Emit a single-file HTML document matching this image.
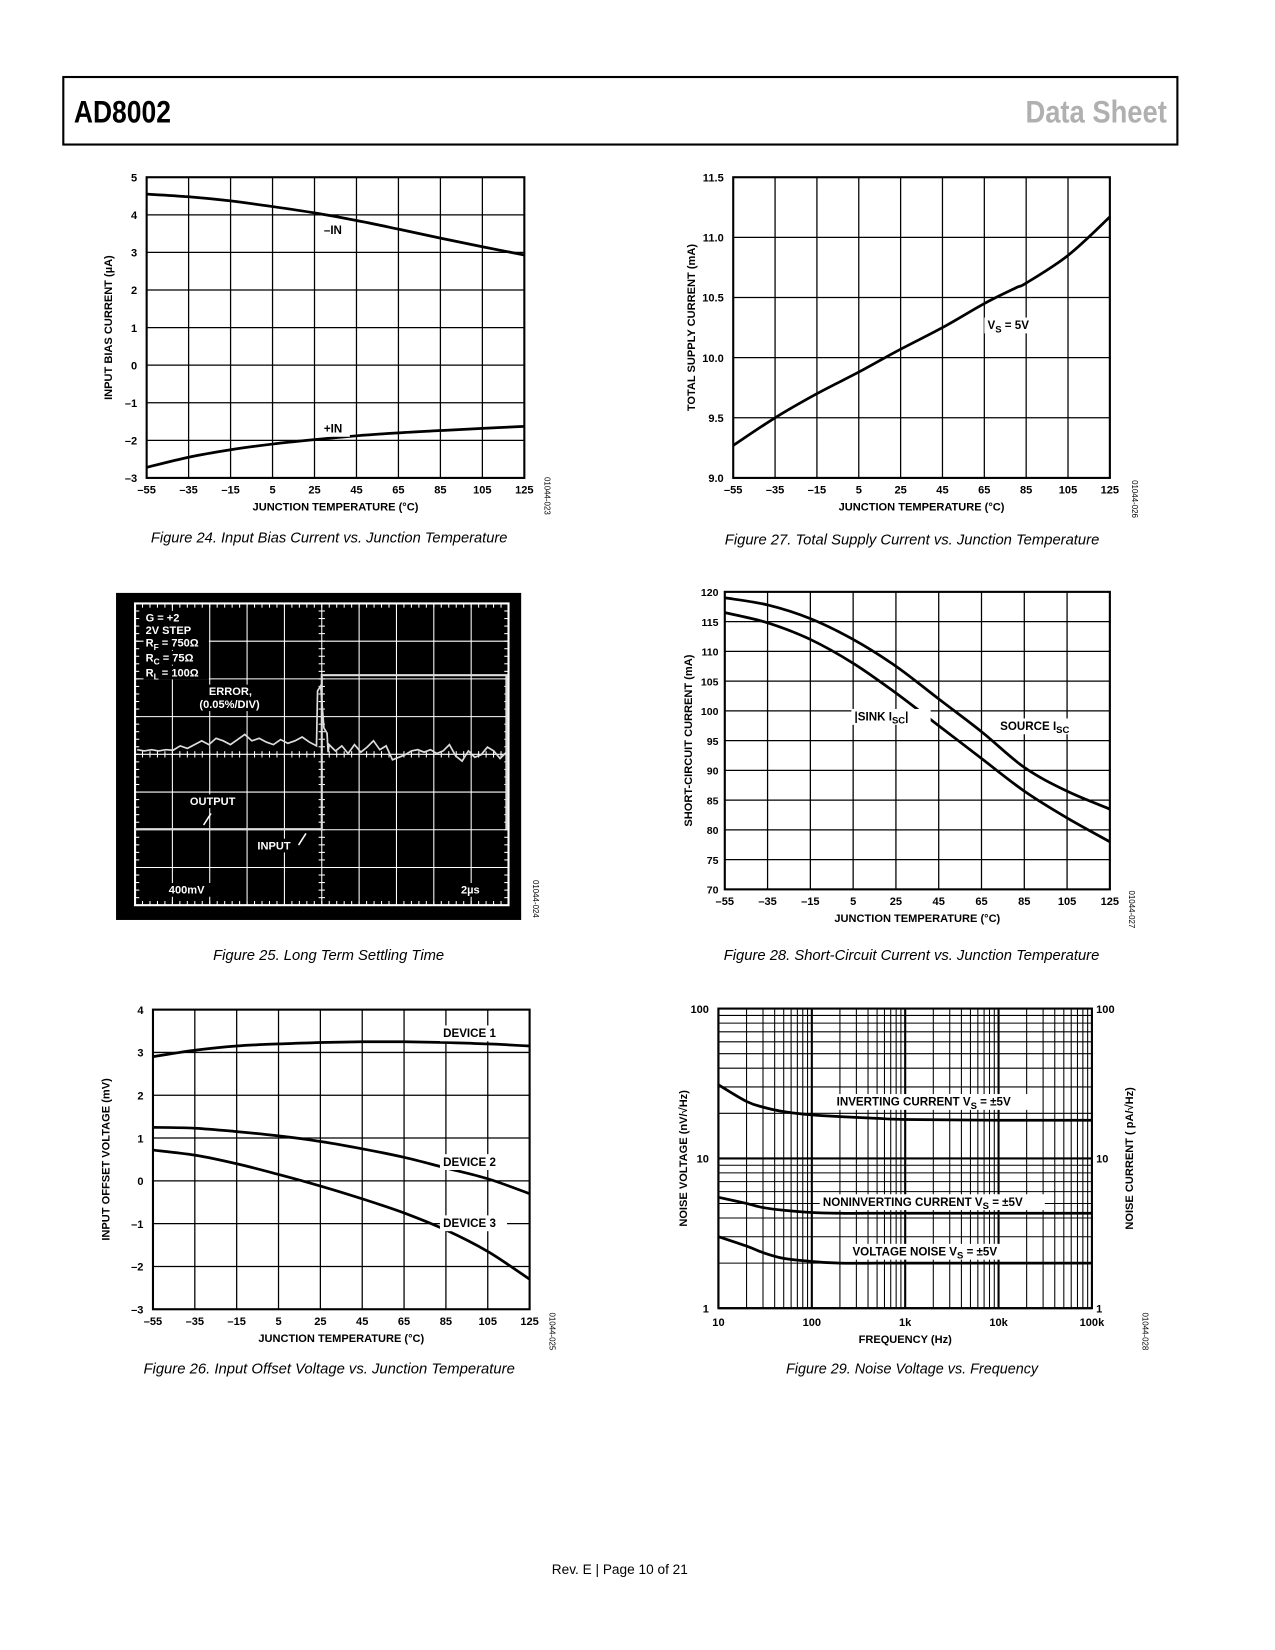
<!DOCTYPE html>
<html><head><meta charset="utf-8"><style>
html,body{margin:0;padding:0;background:#fff;}
svg{display:block;font-family:"Liberation Sans",sans-serif;}
.cap{font-family:"Liberation Sans",sans-serif;font-style:italic;font-size:14px;}
</style></head><body>
<svg id="svgroot" width="1275" height="1650" viewBox="0 0 1275 1650" xmlns="http://www.w3.org/2000/svg">
<g id="page" transform="scale(1.055)">
<rect x="60" y="73" width="1056" height="64" fill="none" stroke="#000" stroke-width="2"/>
<text x="70" y="116" font-size="30" font-weight="bold" textLength="92" lengthAdjust="spacingAndGlyphs">AD8002</text>
<text x="1106" y="116" font-size="30" font-weight="bold" fill="#b0b0b0" text-anchor="end" textLength="134" lengthAdjust="spacingAndGlyphs">Data Sheet</text>
<text x="143" y="514" class="cap" textLength="338" lengthAdjust="spacingAndGlyphs">Figure 24. Input Bias Current vs. Junction Temperature</text>
<text x="687" y="516" class="cap" textLength="355" lengthAdjust="spacingAndGlyphs">Figure 27. Total Supply Current vs. Junction Temperature</text>
<text x="202" y="910" class="cap" textLength="219" lengthAdjust="spacingAndGlyphs">Figure 25. Long Term Settling Time</text>
<text x="686" y="910" class="cap" textLength="356" lengthAdjust="spacingAndGlyphs">Figure 28. Short-Circuit Current vs. Junction Temperature</text>
<text x="136" y="1302" class="cap" textLength="352" lengthAdjust="spacingAndGlyphs">Figure 26. Input Offset Voltage vs. Junction Temperature</text>
<text x="745" y="1302" class="cap" textLength="239" lengthAdjust="spacingAndGlyphs">Figure 29. Noise Voltage vs. Frequency</text>
<text x="523" y="1492" font-size="13" textLength="129" lengthAdjust="spacingAndGlyphs">Rev. E | Page 10 of 21</text>
</g>
</svg>
<script>
const temps=[-55,-35,-15,5,25,45,65,85,105,125];
const tempTicks=["–55","–35","–15","5","25","45","65","85","105","125"];
const biasNeg=[4.55,4.48,4.37,4.22,4.05,3.85,3.62,3.38,3.15,2.93];
const biasPos=[-2.72,-2.45,-2.25,-2.1,-1.98,-1.88,-1.8,-1.74,-1.68,-1.63];
const supplyTemps=[-55,-35,-15,5,25,45,65,80,85,105,125];
const supplyCur=[9.27,9.5,9.7,9.88,10.07,10.25,10.45,10.58,10.62,10.85,11.17];
const sourceIsc=[119,117.8,115.5,112,107.5,102,96.5,90.5,86.5,83.5];
const sinkIsc=[116.5,114.8,112,108,103,97.5,92,86.5,82,78];
const dev1=[2.9,3.05,3.15,3.2,3.23,3.25,3.25,3.23,3.2,3.15];
const dev2=[1.25,1.23,1.15,1.05,0.92,0.75,0.55,0.3,0.05,-0.3];
const dev3=[0.72,0.6,0.4,0.15,-0.12,-0.42,-0.75,-1.15,-1.65,-2.3];
const freqs=[10,20,30,50,100,200,500,1000,10000,100000];
const invCur=[31,24,22,20.5,19.5,19,18.5,18.2,18,18];
const nonInvCur=[5.5,5.0,4.7,4.5,4.35,4.3,4.3,4.3,4.3,4.3];
const voltNoise=[3.0,2.6,2.35,2.15,2.05,2.0,2.0,2.0,2.0,2.0];
const errTrace=[0.1,0.05,0.1,0.05,0.1,0.08,0.25,0.15,0.3,0.45,0.3,0.55,0.45,0.3,0.5,0.7,0.45,0.55,0.4,0.3,0.5,0.35,0.45,0.6,0.4,0.25];
const errTrace2=[0.3,0.05,0.25,-0.05,0.3,0.0,0.2,0.45,0.1,0.25,-0.3,-0.2,-0.1,0.05,0.1,0.0,0.1,-0.05,0.05,0.3,-0.15,-0.35,0.05,-0.2,-0.1,0.2,0.05,-0.25,0.0];

const NS="http://www.w3.org/2000/svg";
const svg=document.getElementById('page');
function mk(tag,attrs,parent,txt){const e=document.createElementNS(NS,tag);for(const k in attrs)e.setAttribute(k,attrs[k]);if(txt!==undefined)e.textContent=txt;(parent||svg).appendChild(e);return e;}
function lin(d0,d1,p0,p1){return v=>p0+(v-d0)/(d1-d0)*(p1-p0);}
function logs(d0,d1,p0,p1){return v=>p0+(Math.log10(v)-Math.log10(d0))/(Math.log10(d1)-Math.log10(d0))*(p1-p0);}
function smooth(pts){let d="M"+pts[0][0].toFixed(1)+","+pts[0][1].toFixed(1);for(let i=0;i<pts.length-1;i++){const p0=pts[i-1]||pts[i],p1=pts[i],p2=pts[i+1],p3=pts[i+2]||p2;const c1=[p1[0]+(p2[0]-p0[0])/6,p1[1]+(p2[1]-p0[1])/6],c2=[p2[0]-(p3[0]-p1[0])/6,p2[1]-(p3[1]-p1[1])/6];d+=" C"+c1[0].toFixed(1)+","+c1[1].toFixed(1)+" "+c2[0].toFixed(1)+","+c2[1].toFixed(1)+" "+p2[0].toFixed(1)+","+p2[1].toFixed(1);}return d;}
function label(g,x,y,txt,sub,after){const w=(txt.length+(sub?sub.length*0.8:0)+(after?after.length:0))*7.2+6;mk('rect',{x:x-3,y:y-11,width:w,height:15,fill:'#fff'},g);const t=mk('text',{x:x,y:y,'font-size':11,'font-weight':'bold'},g,txt);if(sub){mk('tspan',{'font-size':9,dy:3},t,sub);}if(after){mk('tspan',{dy:sub?-3:0},t,after);}return t;}

function tempChart(o){
  const g=mk('g',{});
  
  
  const X=lin(-55,125,o.x0,o.x1),Y=lin(o.ymin,o.ymax,o.y1,o.y0);
  const fs=o.fs||10.5, off=o.off||9;
  temps.forEach((t,i)=>{mk('line',{x1:X(t),x2:X(t),y1:o.y0,y2:o.y1,stroke:'#000','stroke-width':1.2},g);
    const tl=mk('text',{x:X(t),y:o.y1+15,'font-size':10.5,'font-weight':'bold','text-anchor':'middle'},g,tempTicks[i]);
    
    });
  o.yticks.forEach((v,i)=>{mk('line',{x1:o.x0,x2:o.x1,y1:Y(v),y2:Y(v),stroke:'#000','stroke-width':1.2},g);
    const yl=mk('text',{x:o.x0-off,y:Y(v)+4,'font-size':fs,'font-weight':'bold','text-anchor':'end'},g,o.ylabels[i]);
    
    });
  mk('rect',{x:o.x0,y:o.y0,width:o.x1-o.x0,height:o.y1-o.y0,fill:'none',stroke:'#000','stroke-width':2},g);
  const xt=mk('text',{x:(o.x0+o.x1)/2,y:o.y1+31,'font-size':10.5,'font-weight':'bold','text-anchor':'middle'},g,'JUNCTION TEMPERATURE (°C)');
  
  
  const yt=mk('text',{x:0,y:0,'font-size':10.5,'font-weight':'bold','text-anchor':'middle',transform:`translate(${o.yx},${(o.y0+o.y1)/2}) rotate(-90)`},g,o.ytitle);
  
  
  mk('text',{x:0,y:0,'font-size':7.5,'text-anchor':'middle',transform:`translate(${o.codeX},${o.codeY}) rotate(90)`},g,o.code);
  o.series.forEach(s=>{const xs=s.x||temps;const p=mk('path',{d:smooth(xs.map((t,i)=>[X(t),Y(s.v[i])])),fill:'none',stroke:'#000','stroke-width':2.6},g);
    
    });
  (o.labels||[]).forEach(l=>label(g,l[0],l[1],l[2],l[3],l[4]));
}
tempChart({name:'figure-24-input-bias-chart',x0:139,x1:497,y0:168,y1:453,ymin:-3,ymax:5,yticks:[-3,-2,-1,0,1,2,3,4,5],ylabels:["–3","–2","–1","0","1","2","3","4","5"],ytitle:'INPUT BIAS CURRENT (µA)',yx:106,code:'01044-023',codeX:516,codeY:470,
  series:[{name:'minus-in-line',v:biasNeg},{name:'plus-in-line',v:biasPos}],labels:[[307,222,'–IN'],[307,410,'+IN']]});
tempChart({name:'figure-27-supply-current-chart',x0:695,x1:1052,y0:168,y1:453,ymin:9,ymax:11.5,yticks:[9,9.5,10,10.5,11,11.5],ylabels:["9.0","9.5","10.0","10.5","11.0","11.5"],ytitle:'TOTAL  SUPPLY CURRENT (mA)',yx:659,code:'01044-026',codeX:1073,codeY:473,
  series:[{name:'supply-current-line',x:supplyTemps,v:supplyCur}],labels:[[936,312,'V','S',' = 5V']]});
tempChart({name:'figure-28-short-circuit-chart',x0:687,x1:1052,y0:561,y1:843,ymin:70,ymax:120,yticks:[70,75,80,85,90,95,100,105,110,115,120],ylabels:["70","75","80","85","90","95","100","105","110","115","120"],ytitle:'SHORT-CIRCUIT CURRENT (mA)',yx:656,fs:10,off:6,code:'01044-027',codeX:1070,codeY:862,
  series:[{name:'source-isc-line',v:sourceIsc},{name:'sink-isc-line',v:sinkIsc}],labels:[[810,683,'|SINK I','SC','|'],[948,692,'SOURCE I','SC','']]});
tempChart({name:'figure-26-offset-voltage-chart',x0:145,x1:502,y0:957,y1:1241,ymin:-3,ymax:4,yticks:[-3,-2,-1,0,1,2,3,4],ylabels:["–3","–2","–1","0","1","2","3","4"],ytitle:'INPUT OFFSET VOLTAGE (mV)',yx:104,code:'01044-025',codeX:521,codeY:1262,
  series:[{name:'device-1-line',v:dev1},{name:'device-2-line',v:dev2},{name:'device-3-line',v:dev3}],labels:[[420,983,'DEVICE 1'],[420,1105,'DEVICE 2'],[420,1163,'DEVICE 3']]});

// Scope figure 25
(function(){
  const g=mk('g',{});
  
  
  mk('rect',{x:110,y:562,width:384,height:310,fill:'#000'},g);
  const gx0=128,gx1=482,gy0=572,gy1=858;
  for(let i=0;i<=10;i++){const x=gx0+(gx1-gx0)*i/10;mk('line',{x1:x,x2:x,y1:gy0,y2:gy1,stroke:'#fff','stroke-width':1},g);}
  for(let i=0;i<=8;i++){const y=gy0+(gy1-gy0)*i/8;mk('line',{x1:gx0,x2:gx1,y1:y,y2:y,stroke:'#fff','stroke-width':1},g);}
  const cx=(gx0+gx1)/2,cy=(gy0+gy1)/2;
  for(let i=0;i<=50;i++){const x=gx0+(gx1-gx0)*i/50;mk('line',{x1:x,x2:x,y1:cy-3,y2:cy+3,stroke:'#fff'},g);mk('line',{x1:x,x2:x,y1:gy0,y2:gy0+4,stroke:'#fff'},g);mk('line',{x1:x,x2:x,y1:gy1-4,y2:gy1,stroke:'#fff'},g);}
  for(let i=0;i<=40;i++){const y=gy0+(gy1-gy0)*i/40;mk('line',{x1:cx-3,x2:cx+3,y1:y,y2:y,stroke:'#fff'},g);mk('line',{x1:gx0,x2:gx0+4,y1:y,y2:y,stroke:'#fff'},g);mk('line',{x1:gx1-4,x2:gx1,y1:y,y2:y,stroke:'#fff'},g);}
  mk('rect',{x:gx0,y:gy0,width:gx1-gx0,height:gy1-gy0,fill:'none',stroke:'#fff','stroke-width':2},g);
  const step=mk('path',{d:`M${gx0} 786 H305 V640 H480 V786`,fill:'none',stroke:'#ddd','stroke-width':2},g);
  
  
  const EY=v=>713-v*24;
  const eX1=lin(0,errTrace.length-1,130,300);
  let d=errTrace.map((v,i)=>(i?'L':'M')+eX1(i).toFixed(1)+' '+EY(v).toFixed(1)).join(' ');
  d+=` L301 655 L304 650 L307 690 L310 695 L311 713`;
  const eX2=lin(0,errTrace2.length-1,312,480);
  d+=' '+errTrace2.map((v,i)=>'L'+eX2(i).toFixed(1)+' '+EY(v).toFixed(1)).join(' ');
  const err=mk('path',{d:d,fill:'none',stroke:'#ddd','stroke-width':1.6},g);
  
  
  const lab=(x,y,t,sub,after,w)=>{mk('rect',{x:x-2,y:y-10,width:w,height:13,fill:'#000'},g);const tt=mk('text',{x:x,y:y,'font-size':10.5,'font-weight':'bold',fill:'#fff'},g,t);if(sub){mk('tspan',{'font-size':8,dy:3},tt,sub);mk('tspan',{dy:-3},tt,after);}};
  lab(138,589,'G = +2','','',58);lab(138,601,'2V STEP','','',62);lab(138,613,'R','F',' = 750Ω',62);lab(138,627,'R','C',' = 75Ω',62);lab(138,641,'R','L',' = 100Ω',62);
  lab(198,659,'ERROR,','','',48);lab(189,671,'(0.05%/DIV)','','',70);
  lab(180,763,'OUTPUT','','',54);lab(244,805,'INPUT','','',42);
  mk('line',{x1:200,x2:193,y1:771,y2:782,stroke:'#fff','stroke-width':1.5},g);
  mk('line',{x1:283,x2:290,y1:801,y2:790,stroke:'#fff','stroke-width':1.5},g);
  lab(160,847,'400mV','','',44);lab(437,847,'2µs','','',28);
  mk('text',{x:0,y:0,'font-size':7.5,'text-anchor':'middle',transform:'translate(505,852) rotate(90)'},g,'01044-024');
})();

// Noise figure 29
(function(){
  const g=mk('g',{});
  
  
  const x0=681,x1=1035,y0=956,y1=1240;
  const X=logs(10,100000,x0,x1),Y=logs(1,100,y1,y0);
  for(let dec=10;dec<100000;dec*=10)for(let m=1;m<10;m++){const x=X(dec*m);mk('line',{x1:x,x2:x,y1:y0,y2:y1,stroke:'#000','stroke-width':m==1?2:1},g);}
  for(let dec=1;dec<100;dec*=10)for(let m=1;m<10;m++){const y=Y(dec*m);mk('line',{x1:x0,x2:x1,y1:y,y2:y,stroke:'#000','stroke-width':m==1?2:1},g);}
  mk('rect',{x:x0,y:y0,width:x1-x0,height:y1-y0,fill:'none',stroke:'#000','stroke-width':2},g);
  [[10,'10'],[100,'100'],[1000,'1k'],[10000,'10k'],[100000,'100k']].forEach(t=>{const tl=mk('text',{x:X(t[0]),y:y1+17,'font-size':10.5,'font-weight':'bold','text-anchor':'middle'},g,t[1]);
    
    });
  [[1,'1'],[10,'10'],[100,'100']].forEach(t=>{mk('text',{x:x0-9,y:Y(t[0])+4,'font-size':10.5,'font-weight':'bold','text-anchor':'end'},g,t[1]);mk('text',{x:x1+4,y:Y(t[0])+4,'font-size':10.5,'font-weight':'bold'},g,t[1]);});
  mk('text',{x:(x0+x1)/2,y:y1+33,'font-size':10.5,'font-weight':'bold','text-anchor':'middle'},g,'FREQUENCY (Hz)');
  mk('text',{x:0,y:0,'font-size':10.5,'font-weight':'bold','text-anchor':'middle',transform:`translate(651,${(y0+y1)/2}) rotate(-90)`},g,'NOISE VOLTAGE (nV/√Hz)');
  mk('text',{x:0,y:0,'font-size':10.5,'font-weight':'bold','text-anchor':'middle',transform:`translate(1074,${(y0+y1)/2}) rotate(-90)`},g,'NOISE CURRENT ( pA/√Hz)');
  mk('text',{x:0,y:0,'font-size':7.5,'text-anchor':'middle',transform:'translate(1083,1262) rotate(90)'},g,'01044-028');
  [[invCur,'inverting-current-line'],[nonInvCur,'noninverting-current-line'],[voltNoise,'voltage-noise-line']].forEach(s=>{const p=mk('path',{d:smooth(freqs.map((f,i)=>[X(f),Y(s[0][i])])),fill:'none',stroke:'#000','stroke-width':2.6},g);
    
    });
  label(g,793,1048,'INVERTING CURRENT V','S',' = ±5V');
  label(g,780,1143,'NONINVERTING CURRENT V','S',' = ±5V');
  label(g,808,1190,'VOLTAGE NOISE V','S',' = ±5V');
})();
</script>
</body></html>
